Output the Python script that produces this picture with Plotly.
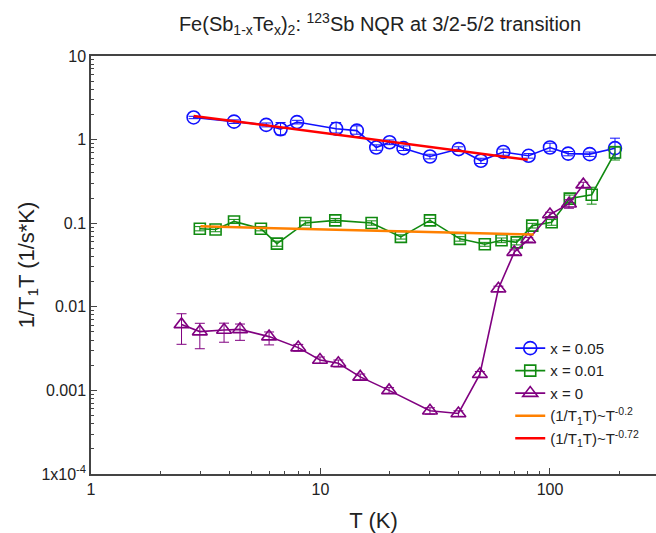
import plotly.graph_objects as go

# ---- data ----
T_x005 = [2.8, 4.2, 5.8, 6.7, 7.9, 11.7, 14.4, 17.5, 20, 23, 30, 40, 50, 62.6, 80.7, 100, 120, 149, 192]
y_x005 = [1.84, 1.64, 1.50, 1.33, 1.62, 1.35, 1.28, 0.805, 0.93, 0.79, 0.628, 0.77, 0.558, 0.71, 0.64, 0.805, 0.68, 0.67, 0.79]
e_up_x005 = [0.06, 0.08, 0.08, 0.27, 0.08, 0.25, 0.18, 0.06, 0.06, 0.05, 0.04, 0.05, 0.04, 0.06, 0.04, 0.10, 0.04, 0.04, 0.25]
e_dn_x005 = [0.06, 0.08, 0.08, 0.19, 0.08, 0.15, 0.12, 0.06, 0.06, 0.05, 0.04, 0.05, 0.04, 0.06, 0.04, 0.08, 0.04, 0.04, 0.19]

T_x001 = [2.98, 3.49, 4.2, 5.5, 6.46, 8.59, 11.6, 16.7, 22.4, 30, 40.5, 52, 61.5, 71.6, 83.7, 101.7, 122, 152, 192]
y_x001 = [0.086, 0.084, 0.105, 0.086, 0.057, 0.1007, 0.108, 0.1007, 0.0686, 0.108, 0.065, 0.056, 0.0625, 0.059, 0.0936, 0.1025, 0.197, 0.219, 0.70]
e_up_x001 = [0.005, 0.005, 0.006, 0.005, 0.004, 0.006, 0.006, 0.006, 0.004, 0.006, 0.004, 0.003, 0.004, 0.004, 0.006, 0.008, 0.02, 0.05, 0.13]
e_dn_x001 = [0.005, 0.005, 0.006, 0.005, 0.004, 0.006, 0.006, 0.006, 0.004, 0.006, 0.004, 0.003, 0.004, 0.004, 0.006, 0.008, 0.02, 0.05, 0.13]

T_x0 = [2.48, 2.98, 3.8, 4.46, 5.97, 8.0, 9.95, 11.96, 14.9, 19.9, 30, 39.9, 49.5, 59.6, 69.9, 80.4, 100, 121, 139.7]
y_x0 = [0.00616, 0.00505, 0.00527, 0.00537, 0.0044, 0.00325, 0.00231, 0.00211, 0.00145, 0.001, 0.00057, 0.00053, 0.00156, 0.01644, 0.045, 0.0637, 0.127, 0.171, 0.289]
e_up_x0 = [0.0021, 0.0013, 0.0011, 0.00085, 0.0006, 0.0003, 0.0002, 0.0002, 0.00012, 0.00008, 0.00005, 0.00004, 0.00012, 0.0012, 0.003, 0.004, 0.008, 0.02, 0.02]
e_dn_x0 = [0.0026, 0.0019, 0.0015, 0.0014, 0.0009, 0.0003, 0.0002, 0.0002, 0.00012, 0.00008, 0.00005, 0.00004, 0.00012, 0.0012, 0.003, 0.004, 0.008, 0.02, 0.02]

fit02_T = [3.0, 85.0]
fit02_y = [0.0918, 0.0731]
fit072_T = [2.8, 80.0]
fit072_y = [1.92, 0.574]

x_tickvals = [1, 10, 100]
x_ticktext = ["1", "10", "100"]
y_tickvals = [10, 1, 0.1, 0.01, 0.001, 0.0001]
y_ticktext = ["10", "1", "0.1", "0.01", "0.001", "1x10<sup>-4</sup>"]

BLUE = "#1010ff"
GREEN = "#108a10"
PURPLE = "#800080"
ORANGE = "#ff8000"
RED = "#ff0000"
AXC = "#444444"
FONT = "Liberation Sans, Arial, sans-serif"

fig = go.Figure()

def series(T, y, eu, ed, color, symbol, name, size):
    fig.add_trace(go.Scatter(
        x=T, y=y, name=name, mode="lines+markers",
        line=dict(color=color, width=1.6),
        marker=dict(symbol=symbol, size=size, color=color,
                    line=dict(color=color, width=1.6)),
        error_y=dict(type="data", array=eu, arrayminus=ed, color=color,
                     thickness=1, width=5, symmetric=False),
    ))

series(T_x005, y_x005, e_up_x005, e_dn_x005, BLUE, "circle-open", "x = 0.05", 13)
series(T_x001, y_x001, e_up_x001, e_dn_x001, GREEN, "square-open", "x = 0.01", 11)
series(T_x0, y_x0, e_up_x0, e_dn_x0, PURPLE, "triangle-up-open", "x = 0", 13)

fig.add_trace(go.Scatter(x=fit02_T, y=fit02_y, mode="lines", name="(1/T<sub>1</sub>T)~T<sup>-0.2</sup>",
                         line=dict(color=ORANGE, width=2.5)))
fig.add_trace(go.Scatter(x=fit072_T, y=fit072_y, mode="lines", name="(1/T<sub>1</sub>T)~T<sup>-0.72</sup>",
                         line=dict(color=RED, width=2.5)))

def minor_vals(lo, hi):
    out = []
    for d in range(lo, hi):
        for m in range(2, 10):
            out.append(m * 10 ** d)
    return out

fig.update_xaxes(
    type="log", range=[0, 2.462],
    tickmode="array", tickvals=x_tickvals, ticktext=x_ticktext,
    ticks="inside", ticklen=6, tickwidth=1, tickcolor=AXC,
    minor=dict(tickmode="array", tickvals=minor_vals(0, 3), ticks="inside", ticklen=3, tickcolor=AXC),
    showline=True, linecolor=AXC, linewidth=1.5, mirror=True,
    showgrid=False, zeroline=False,
    tickfont=dict(size=16, color="#222"),
    title=dict(text="T (K)", font=dict(size=22, color="#222"), standoff=16),
)
fig.update_yaxes(
    type="log", range=[-4, 1],
    tickmode="array", tickvals=y_tickvals, ticktext=y_ticktext,
    ticks="inside", ticklen=6, tickwidth=1, tickcolor=AXC,
    minor=dict(tickmode="array", tickvals=minor_vals(-4, 1), ticks="inside", ticklen=3, tickcolor=AXC),
    showline=True, linecolor=AXC, linewidth=1.5, mirror=False,
    showgrid=False, zeroline=False,
    tickfont=dict(size=16, color="#222"),
    title=dict(text="1/T<sub>1</sub>T (1/s*K)", font=dict(size=22, color="#222"), standoff=1),
)

fig.update_layout(
    width=656, height=533,
    margin=dict(l=91, r=0, t=56, b=59),
    paper_bgcolor="white", plot_bgcolor="white",
    font=dict(family=FONT, color="#222"),
    title=dict(text="Fe(Sb<sub>1-x</sub>Te<sub>x</sub>)<sub>2</sub>: <sup>123</sup>Sb NQR at 3/2-5/2 transition",
               x=(380 - 91) / 565, xref="paper", xanchor="center", y=0.955, yanchor="middle",
               font=dict(size=20, color="#222")),
    showlegend=True,
    legend=dict(x=0.742, y=0.34, xanchor="left", yanchor="top",
                bgcolor="rgba(0,0,0,0)", font=dict(size=15, color="#222"),
                itemwidth=30, tracegroupgap=0),
)

fig.write_html("out.html")
